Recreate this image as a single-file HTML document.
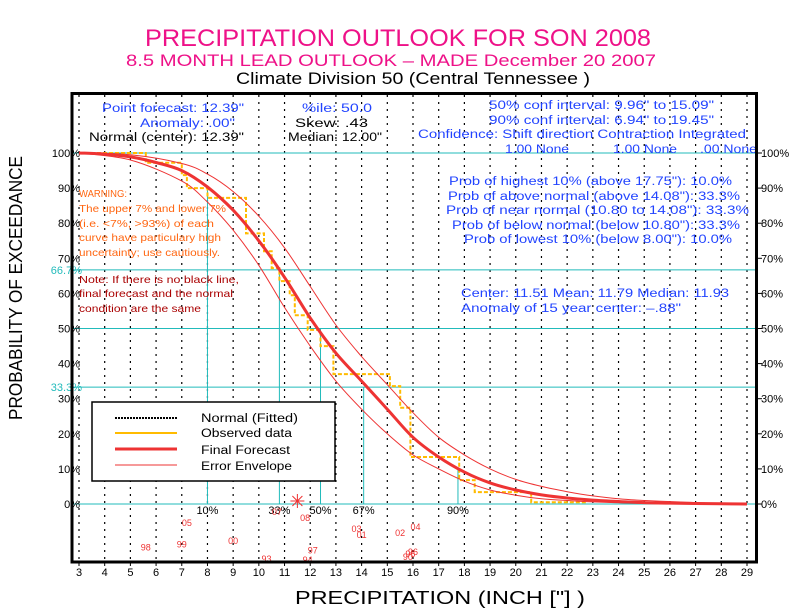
<!DOCTYPE html>
<html><head><meta charset="utf-8">
<style>
html,body{margin:0;padding:0;background:#fff;}
svg{display:block;font-family:"Liberation Sans",sans-serif;}
</style></head>
<body>
<svg id="chart" width="792" height="612" viewBox="0 0 792 612" xmlns="http://www.w3.org/2000/svg">
<rect x="0" y="0" width="792" height="612" fill="#fff"/>
<g id="titles">
<text x="398" y="46" font-size="24" fill="#ee1188" text-anchor="middle" textLength="506" lengthAdjust="spacingAndGlyphs">PRECIPITATION OUTLOOK FOR SON 2008</text>
<text x="391" y="66" font-size="17" fill="#ee1188" text-anchor="middle" textLength="530" lengthAdjust="spacingAndGlyphs">8.5 MONTH LEAD OUTLOOK  – MADE December 20 2007</text>
<text x="413" y="84" font-size="17" fill="#000" text-anchor="middle" textLength="354" lengthAdjust="spacingAndGlyphs">Climate Division 50 (Central Tennessee )</text>
<text transform="translate(22,288) rotate(-90)" font-size="18" fill="#000" text-anchor="middle" textLength="264" lengthAdjust="spacingAndGlyphs">PROBABILITY OF EXCEEDANCE</text>
<text x="440" y="604" font-size="18" fill="#000" text-anchor="middle" textLength="290" lengthAdjust="spacingAndGlyphs">PRECIPITATION (INCH ["] )</text>
</g>
<g id="grid"></g>
<g id="marks"></g>
<g id="texts" font-size="11.5">
<text x="102" y="112" fill="#2244ff" textLength="142" lengthAdjust="spacingAndGlyphs">Point forecast: 12.39"</text>
<text x="140" y="127" fill="#2244ff" textLength="95" lengthAdjust="spacingAndGlyphs">Anomaly: .00"</text>
<text x="89" y="141" fill="#000" textLength="155" lengthAdjust="spacingAndGlyphs">Normal (center): 12.39"</text>
<text x="302" y="112" fill="#2244ff" textLength="70" lengthAdjust="spacingAndGlyphs">%ile: 50.0</text>
<text x="295" y="127" fill="#000" textLength="73" lengthAdjust="spacingAndGlyphs">Skew: .43</text>
<text x="288" y="141" fill="#000" textLength="94" lengthAdjust="spacingAndGlyphs">Median: 12.00"</text>
<text x="489" y="109" fill="#2244ff" textLength="225" lengthAdjust="spacingAndGlyphs">50% conf interval: 9.96" to 15.09"</text>
<text x="489" y="124" fill="#2244ff" textLength="225" lengthAdjust="spacingAndGlyphs">90% conf interval: 6.94" to 19.45"</text>
<text x="418" y="138" fill="#2244ff" textLength="328" lengthAdjust="spacingAndGlyphs">Confidence: Shift direction  Contraction  Integrated</text>
<text x="505" y="153" fill="#2244ff" textLength="64" lengthAdjust="spacingAndGlyphs">1.00 None</text>
<text x="613" y="153" fill="#2244ff" textLength="64" lengthAdjust="spacingAndGlyphs">1.00 None</text>
<text x="700" y="153" fill="#2244ff" textLength="57" lengthAdjust="spacingAndGlyphs">.00 None</text>
<text x="449" y="185" fill="#2244ff" textLength="283" lengthAdjust="spacingAndGlyphs">Prob of highest 10% (above 17.75"): 10.0%</text>
<text x="448" y="200" fill="#2244ff" textLength="292" lengthAdjust="spacingAndGlyphs">Prob of above normal (above 14.08"): 33.3%</text>
<text x="446" y="214" fill="#2244ff" textLength="303" lengthAdjust="spacingAndGlyphs">Prob of near normal (10.80 to 14.08"): 33.3%</text>
<text x="452" y="229" fill="#2244ff" textLength="288" lengthAdjust="spacingAndGlyphs">Prob of below normal (below 10.80"): 33.3%</text>
<text x="464" y="243" fill="#2244ff" textLength="268" lengthAdjust="spacingAndGlyphs">Prob of lowest 10% (below 8.00"): 10.0%</text>
<text x="461" y="297" fill="#2244ff" textLength="268" lengthAdjust="spacingAndGlyphs">Center: 11.51 Mean: 11.79 Median: 11.93</text>
<text x="461" y="312" fill="#2244ff" textLength="220" lengthAdjust="spacingAndGlyphs">Anomaly of 15 year center: –.88"</text>
<g font-size="10.5" fill="#ff6611">
<text x="79" y="197" textLength="48" lengthAdjust="spacingAndGlyphs">WARNING:</text>
<text x="79" y="212" textLength="147" lengthAdjust="spacingAndGlyphs">The upper 7% and lower 7%</text>
<text x="79" y="227" textLength="135" lengthAdjust="spacingAndGlyphs">(i.e. &lt;7%, &gt;93%) of each</text>
<text x="79" y="241" textLength="142" lengthAdjust="spacingAndGlyphs">curve have particulary high</text>
<text x="79" y="256" textLength="141" lengthAdjust="spacingAndGlyphs">uncertainty; use cautiously.</text>
</g>
<g font-size="10.5" fill="#aa0000">
<text x="79" y="283" textLength="160" lengthAdjust="spacingAndGlyphs">Note: If there is no black line,</text>
<text x="79" y="297" textLength="154" lengthAdjust="spacingAndGlyphs">final forecast and the normal</text>
<text x="79" y="312" textLength="122" lengthAdjust="spacingAndGlyphs">condition are the same</text>
</g>
</g>
<g id="legend">
<rect x="92" y="402" width="243" height="79" fill="#fff" stroke="#000" stroke-width="1.5"/>
<line x1="115" y1="418" x2="177" y2="418" stroke="#000" stroke-width="2" stroke-dasharray="2,1"/>
<line x1="115" y1="433" x2="177" y2="433" stroke="#ffbb00" stroke-width="2"/>
<line x1="115" y1="449" x2="177" y2="449" stroke="#ee3333" stroke-width="3"/>
<line x1="115" y1="465" x2="177" y2="465" stroke="#ee3333" stroke-width="1"/>
<g font-size="11.5" fill="#000">
<text x="201" y="422" textLength="97" lengthAdjust="spacingAndGlyphs">Normal (Fitted)</text>
<text x="201" y="437" textLength="91" lengthAdjust="spacingAndGlyphs">Observed data</text>
<text x="201" y="454" textLength="89" lengthAdjust="spacingAndGlyphs">Final Forecast</text>
<text x="201" y="470" textLength="91" lengthAdjust="spacingAndGlyphs">Error Envelope</text>
</g>
</g>
<rect x="72" y="93.5" width="684.5" height="468.5" fill="none" stroke="#000" stroke-width="3"/>
</svg>
<script>
const xTicks=[3,4,5,6,7,8,9,10,11,12,13,14,15,16,17,18,19,20,21,22,23,24,25,26,27,28,29];
const yTicks=[0,10,20,30,40,50,60,70,80,90,100];
const fcX=[3,4,5,6,7,8,9,10,11,12,13,14,15,16,17,18,19,20,21,22,23,24,25,26,27,28,29];
const fcY=[100,99.7,98.9,97.3,95,90.3,83.7,75,64.6,53,43,35,27,19,13.4,9.1,6,4,2.6,1.7,1.1,0.7,0.4,0.25,0.15,0.08,0];
const upX=[3,5,7,8,9,10,11,12,13,14,15,16,17,18,19,20,21,22,23,24,25,27,29];
const upY=[100,99.5,97,94,89,82,73,62,51,42,34,26,19,14,10,7,5,3.5,2.3,1.5,1,0.4,0.1];
const loX=[3,5,7,8,9,10,11,12,13,14,15,16,17,18,19,20,21,22,23,25,29];
const loY=[100,98,92,86,78,68,56,45,35,27,20,14,10,6.5,4,2.5,1.5,1,0.6,0.2,0];
const obsX=[5.6,7.0,7.2,8.0,9.5,10.2,10.5,10.8,11.2,11.4,11.9,12.4,12.9,15.1,15.5,15.9,17.8,18.4,20.6];
const obsY=[97.2,93.7,90,87.2,77.1,72,67.2,63.5,59.5,53.8,49.6,45,37,33.6,27.4,13.4,6.8,3.4,0.5];
const obsEnd=22.8;
const refProbs=[100,66.7,50,33.3,0];
const qLabels=["10%","33%","50%","67%","90%"];
const qX=[8.0,10.8,12.4,14.08,17.75];
const qY=[90,66.7,50,33.3,10];
const yrLabels=["07","08","05","03","01","02","04","00","99","98","97","93","94","96","95","90"];
const yrX=[10.7,11.8,7.2,13.8,14.0,15.5,16.1,9.0,7.0,5.6,12.1,10.3,11.9,16.0,15.9,15.8];
const yrRow=[0.5,1.5,2.3,3.3,4.3,4.0,3.0,5.3,5.9,6.4,6.9,8.3,8.5,7.2,7.5,8.0];
const starX=11.5;

const NS="http://www.w3.org/2000/svg";
const X=v=>79+(v-3)*(747-79)/26;
const Y=p=>504-p*(504-153)/100;
const rowY=r=>512+r*6;
function mk(tag,parent,attrs){const e=document.createElementNS(NS,tag);for(const k in attrs)e.setAttribute(k,attrs[k]);parent.appendChild(e);return e;}
const grid=document.getElementById('grid'),marks=document.getElementById('marks');
xTicks.forEach(t=>{
  const l=mk('line',grid,{x1:X(t),x2:X(t),y1:95,y2:561,stroke:'#000','stroke-width':1.2,'stroke-dasharray':'2,5'});
  
  
  const tk=mk('line',grid,{x1:X(t),x2:X(t),y1:562,y2:566,stroke:'#000','stroke-width':1});
  
  
  const tx=mk('text',grid,{x:X(t),y:576,'font-size':11,'text-anchor':'middle',fill:'#000'});
  tx.textContent=String(t);
  
  
});
refProbs.forEach(p=>{
  const l=mk('line',grid,{x1:72,x2:756,y1:Y(p),y2:Y(p),stroke:'#22bbbb','stroke-width':1});
  
  
});
yTicks.forEach(p=>{
  const a=mk('text',grid,{x:80,y:Y(p)+4,'font-size':11,'text-anchor':'end',fill:'#000'});
  a.textContent=p+'%';
  
  
  const tk=mk('line',grid,{x1:756,x2:762,y1:Y(p),y2:Y(p),stroke:'#000','stroke-width':1});
  
  
  const b=mk('text',grid,{x:761,y:Y(p)+4,'font-size':11,fill:'#000'});
  b.textContent=p+'%';
  
  
});
[66.7,33.3].forEach(p=>{
  const a=mk('text',grid,{x:82,y:Y(p)+4,'font-size':11,'text-anchor':'end',fill:'#22bbbb'});
  a.textContent=p.toFixed(1)+'%';
  
  
});
qX.forEach((q,i)=>{
  const l=mk('line',grid,{x1:X(q),x2:X(q),y1:Y(qY[i]),y2:Y(0),stroke:'#22bbbb','stroke-width':1});
  
  
  const t=mk('text',grid,{x:X(q),y:514,'font-size':11,'text-anchor':'middle',fill:'#000'});
  t.textContent=qLabels[i];
  
  
});
function smooth(xs,ys){
  const P=xs.map((v,i)=>[X(v),Y(ys[i])]);
  let d='M'+P[0][0].toFixed(1)+','+P[0][1].toFixed(1);
  for(let i=0;i<P.length-1;i++){
    const p0=P[Math.max(0,i-1)],p1=P[i],p2=P[i+1],p3=P[Math.min(P.length-1,i+2)];
    const c1=[p1[0]+(p2[0]-p0[0])/6,p1[1]+(p2[1]-p0[1])/6];
    const c2=[p2[0]-(p3[0]-p1[0])/6,p2[1]-(p3[1]-p1[1])/6];
    d+=' C'+c1[0].toFixed(1)+','+c1[1].toFixed(1)+' '+c2[0].toFixed(1)+','+c2[1].toFixed(1)+' '+p2[0].toFixed(1)+','+p2[1].toFixed(1);
  }
  return d;
}
let pts=[[3,100]];let lvl=100;
obsX.forEach((v,i)=>{pts.push([v,lvl]);lvl=obsY[i];pts.push([v,lvl]);});
pts.push([obsEnd,lvl]);
const ob=mk('polyline',marks,{points:pts.map(p=>X(p[0]).toFixed(1)+','+Y(p[1]).toFixed(1)).join(' '),fill:'none',stroke:'#ffbb00','stroke-width':2,'stroke-dasharray':'4,2'});


const up=mk('path',marks,{d:smooth(upX,upY),fill:'none',stroke:'#ee3333','stroke-width':1});


const lo=mk('path',marks,{d:smooth(loX,loY),fill:'none',stroke:'#ee3333','stroke-width':1});


const fc=mk('path',marks,{d:smooth(fcX,fcY),fill:'none',stroke:'#ee3333','stroke-width':3,'stroke-linejoin':'round'});


const sx=X(starX),sy=Y(0)-3;
const st=mk('path',marks,{d:`M${sx-7},${sy} H${sx+7} M${sx},${sy-7} V${sy+7} M${sx-5},${sy-5} L${sx+5},${sy+5} M${sx-5},${sy+5} L${sx+5},${sy-5}`,stroke:'#ee3333','stroke-width':1,fill:'none'});


yrLabels.forEach((y,i)=>{
  const t=mk('text',marks,{x:X(yrX[i]),y:rowY(yrRow[i]),'font-size':9,'text-anchor':'middle',fill:'#ee3333'});
  t.textContent=y;
  
  
});
</script>
</body></html>
